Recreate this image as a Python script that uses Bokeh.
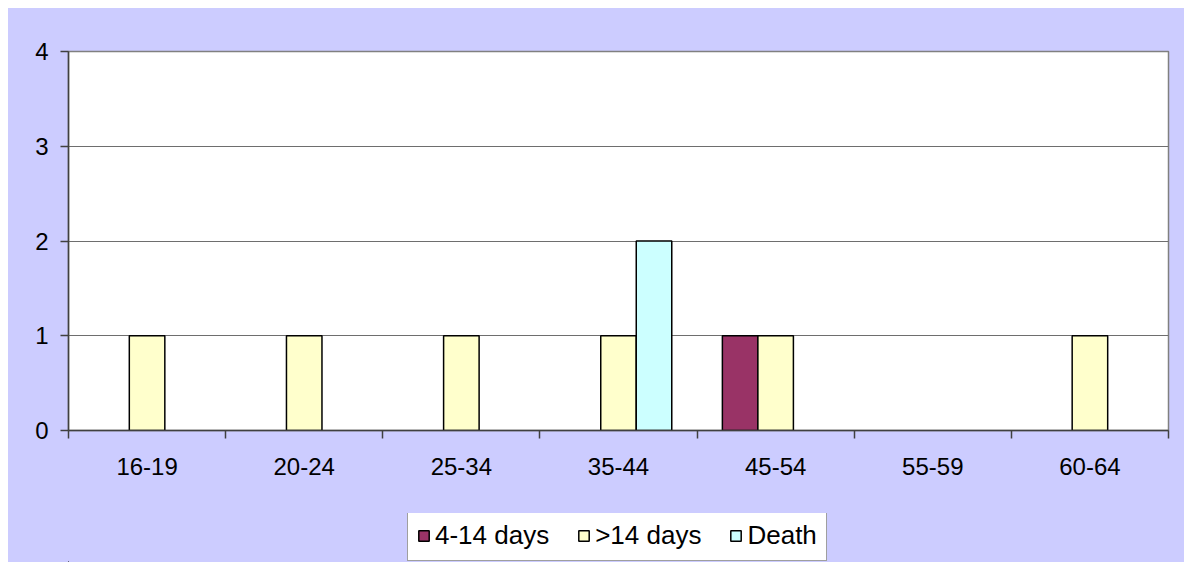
from bokeh.plotting import figure
from bokeh.models import (ColumnDataSource, FixedTicker, Range1d, Legend, LegendItem, Spacer)
from bokeh.layouts import column, row
from bokeh.embed import file_html
from bokeh.resources import INLINE

categories = ["16-19", "20-24", "25-34", "35-44", "45-54", "55-59", "60-64"]
series_names = ["4-14 days", ">14 days", "Death"]
days_4_14 = [0, 0, 0, 0, 1, 0, 0]
days_over_14 = [1, 1, 1, 1, 1, 0, 1]
death = [0, 0, 0, 2, 0, 0, 0]
colors = ["#993366", "#FFFFCC", "#CCFFFF"]
y_ticks = [0, 1, 2, 3, 4]

FONT = "Liberation Sans"
BG = "#CCCCFF"
BAR_W = 0.226
offsets = [-BAR_W, 0.0, BAR_W]

p = figure(width=1176, height=505, output_backend="svg", toolbar_location=None,
           x_range=Range1d(0, len(categories)), y_range=Range1d(0, 4),
           min_border_left=60, min_border_right=16, min_border_top=43, min_border_bottom=83)

p.background_fill_color = "white"
p.border_fill_color = BG
p.outline_line_color = "#808080"
p.outline_line_width = 1.5

# legend strip below the chart (its own frame so the legend is not clipped)
lg = figure(width=1176, height=49, output_backend="svg", toolbar_location=None,
            x_range=Range1d(100, 101), y_range=Range1d(100, 101),
            x_axis_type=None, y_axis_type=None,
            min_border_left=60, min_border_right=16, min_border_top=0, min_border_bottom=0)
lg.background_fill_color = BG
lg.border_fill_color = BG
lg.outline_line_color = None

legend_renderers = []
for vals, off, col in zip([days_4_14, days_over_14, death], offsets, colors):
    xs = [i + 0.5 + off for i, v in enumerate(vals) if v > 0]
    tops = [v for v in vals if v > 0]
    src = ColumnDataSource(dict(x=xs, top=tops))
    p.vbar(x="x", top="top", width=BAR_W, source=src, fill_color=col,
           line_color="black", line_width=1.5)
    r2 = lg.vbar(x="x", top="top", width=BAR_W, source=src, fill_color=col,
                 line_color="black", line_width=1.5)
    legend_renderers.append(r2)

# x axis: labels at category centres, tick marks at category boundaries
centers = [i + 0.5 for i in range(len(categories))]
bounds = list(range(len(categories) + 1))
p.xaxis.ticker = FixedTicker(ticks=centers, minor_ticks=bounds)
p.xaxis.major_label_overrides = {c: lab for c, lab in zip(centers, categories)}
p.xaxis.major_tick_line_color = None
p.xaxis.major_tick_out = 0
p.xaxis.major_tick_in = 0
p.xaxis.minor_tick_out = 8
p.xaxis.minor_tick_in = 0
p.xaxis.minor_tick_line_color = "#404040"
p.xaxis.minor_tick_line_width = 1.5
p.xaxis.axis_line_color = "#404040"
p.xaxis.axis_line_width = 1.5
p.xaxis.major_label_text_font = FONT
p.xaxis.major_label_text_font_size = "24px"
p.xaxis.major_label_text_color = "black"
p.xaxis.major_label_standoff = 19

p.yaxis.ticker = FixedTicker(ticks=y_ticks)
p.yaxis.major_tick_out = 8
p.yaxis.major_tick_in = 0
p.yaxis.minor_tick_line_color = None
p.yaxis.major_tick_line_color = "#404040"
p.yaxis.major_tick_line_width = 1.5
p.yaxis.axis_line_color = "#404040"
p.yaxis.axis_line_width = 1.5
p.yaxis.major_label_text_font = FONT
p.yaxis.major_label_text_font_size = "24px"
p.yaxis.major_label_text_color = "black"
p.yaxis.major_label_standoff = 12

p.xgrid.grid_line_color = None
p.ygrid.ticker = FixedTicker(ticks=y_ticks)
p.ygrid.grid_line_color = "#6E6E6E"
p.ygrid.grid_line_width = 1

legend = Legend(items=[LegendItem(label=n, renderers=[r]) for n, r in zip(series_names, legend_renderers)],
                orientation="horizontal", location=(339, 1))
legend.label_text_font = FONT
legend.label_text_font_size = "26px"
legend.label_text_color = "black"
legend.glyph_width = 13
legend.glyph_height = 13
legend.label_standoff = 5
legend.spacing = 28
legend.padding = 9
legend.margin = 0
legend.border_line_color = "#404040"
legend.border_line_width = 1.5
legend.background_fill_color = "white"
legend.background_fill_alpha = 1
lg.add_layout(legend, "center")

chart = column(p, lg, styles={"background-color": BG})
layout = column(Spacer(height=8), row(Spacer(width=8), chart))

open("out.html", "w").write(file_html(layout, INLINE))
